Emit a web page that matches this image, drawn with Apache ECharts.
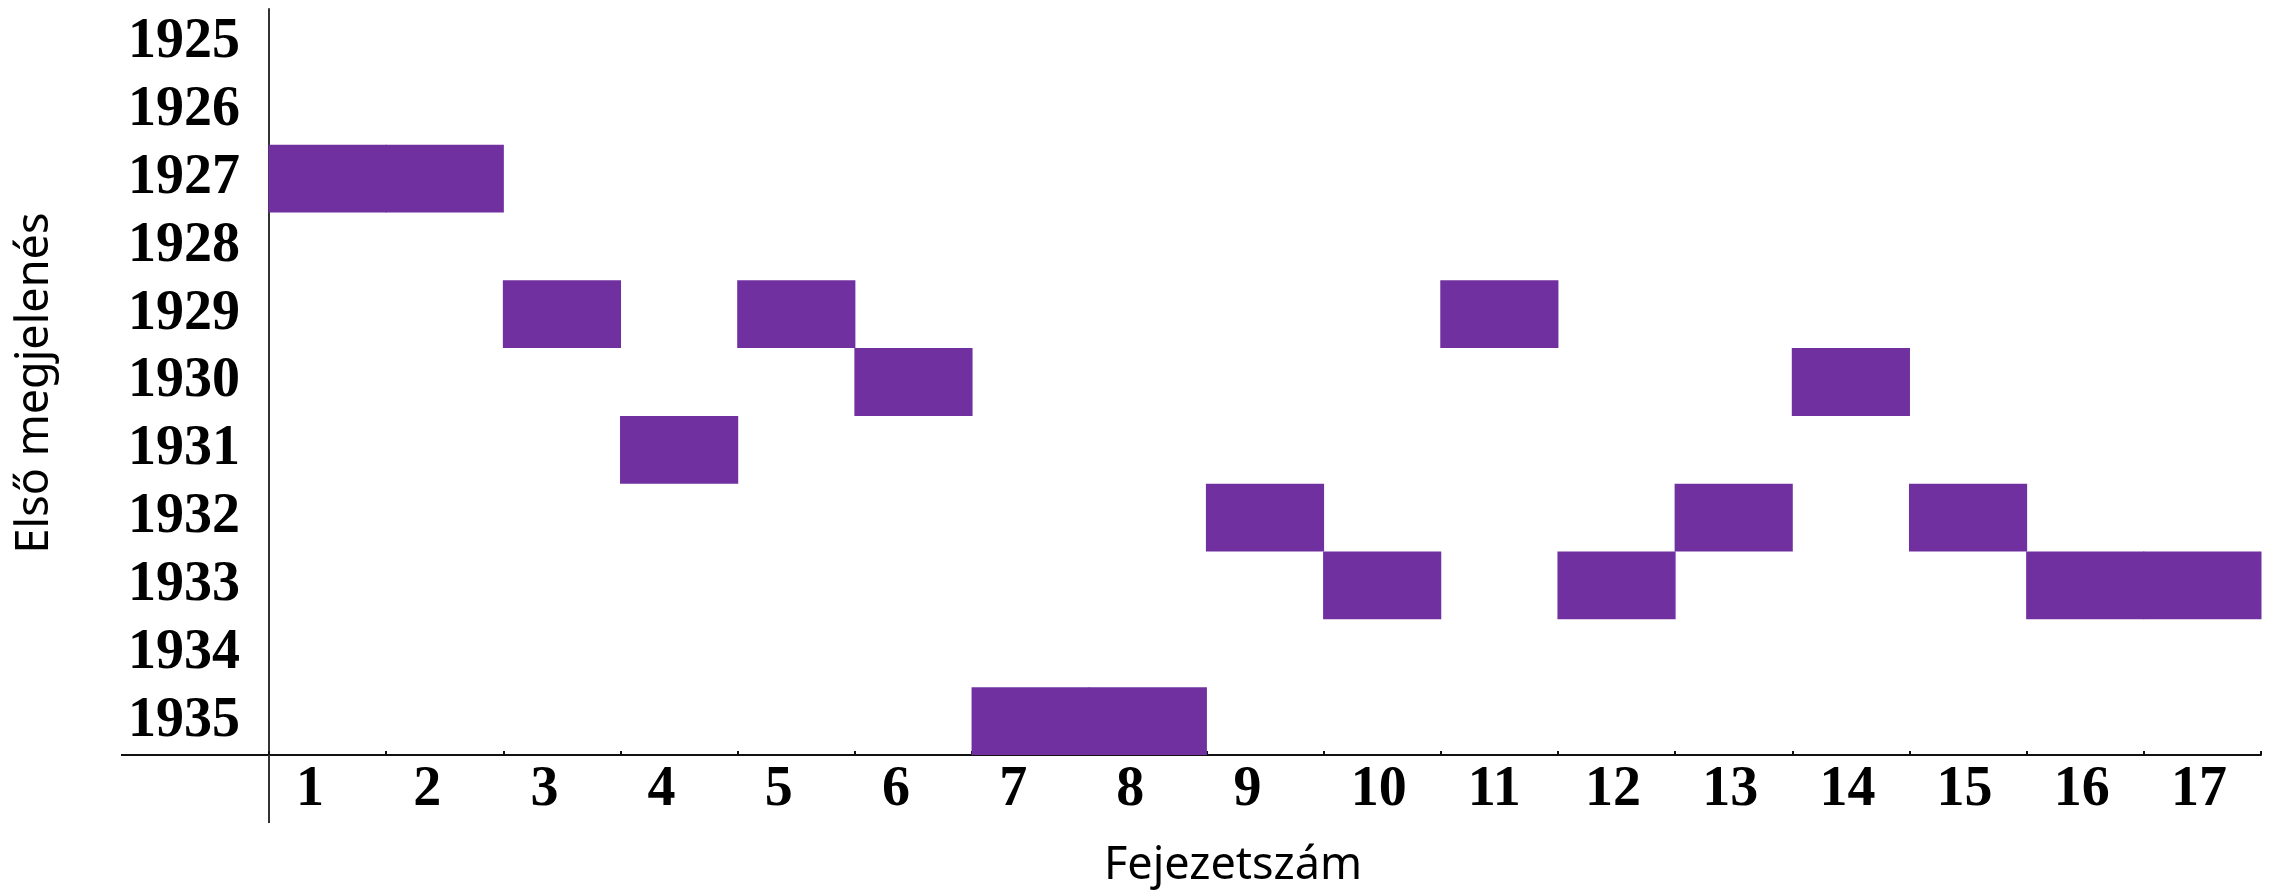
<!DOCTYPE html>
<html>
<head>
<meta charset="utf-8">
<script src="https://cdn.jsdelivr.net/npm/echarts@6/dist/echarts.min.js"></script>
<style>
html,body{margin:0;padding:0;background:#fff;}
#chart{width:2280px;height:891px;}
</style>
</head>
<body>
<div id="chart"></div>
<script>
// ---- data ----
var chapters = ['1','2','3','4','5','6','7','8','9','10','11','12','13','14','15','16','17'];
var years = ['1925','1926','1927','1928','1929','1930','1931','1932','1933','1934','1935'];
var firstYear = [1927,1927,1929,1931,1929,1930,1935,1935,1932,1933,1929,1933,1932,1930,1932,1933,1933];
var xTitle = 'Fejezetszám';
var yTitle = 'Első megjelenés';

// ---- layout ----
var G = {left: 269, right: 19, top: 9, bottom: 136};
var W = 2280, H = 891;
var axisX = G.left, axisY = H - G.bottom;

var cells = firstYear.map(function (y, i) { return [i, years.indexOf(String(y))]; });

var chart = echarts.init(document.getElementById('chart'), null, {renderer: 'canvas'});
chart.setOption({
  animation: false,
  backgroundColor: '#ffffff',
  grid: {left: G.left, right: G.right, top: G.top, bottom: G.bottom, containLabel: false},
  xAxis: {
    type: 'category',
    data: chapters,
    boundaryGap: true,
    axisLine: {show: true, lineStyle: {color: '#111111', width: 2}},
    axisTick: {show: true, inside: true, length: 4, alignWithLabel: false, lineStyle: {color: '#111111', width: 2}},
    axisLabel: {
      interval: 0,
      margin: 8,
      formatter: function (v) { return '{a|' + v + '}'; },
      rich: {
        a: {width: 63, align: 'left', fontFamily: 'Liberation Serif', fontWeight: 'bold', fontSize: 56, color: '#000'}
      }
    },
    splitLine: {show: false}
  },
  yAxis: {
    type: 'category',
    data: years,
    inverse: true,
    boundaryGap: true,
    axisLine: {show: true, lineStyle: {color: '#333333', width: 2}},
    axisTick: {show: false},
    axisLabel: {interval: 0, margin: 29, fontFamily: 'Liberation Serif', fontWeight: 'bold', fontSize: 56, color: '#000'},
    splitLine: {show: false}
  },
  series: [{
    type: 'custom',
    data: cells,
    encode: {x: 0, y: 1},
    z: 1,
    renderItem: function (params, api) {
      var c = api.coord([api.value(0), api.value(1)]);
      var s = api.size([1, 1]);
      return {
        type: 'rect',
        shape: {x: c[0] - s[0] / 2 - 0.5, y: c[1] - s[1] / 2, width: s[0] + 1, height: s[1]},
        style: {fill: '#7030A0'}
      };
    }
  }],
  graphic: [
    {type: 'line', shape: {x1: 121, y1: axisY, x2: axisX, y2: axisY}, style: {stroke: '#111111', lineWidth: 2}, z: 10},
    {type: 'line', shape: {x1: axisX, y1: axisY, x2: axisX, y2: 823}, style: {stroke: '#333333', lineWidth: 2}, z: 10},
    {type: 'text', x: 1233, y: 866, style: {text: xTitle, font: '45px "Noto Sans"', fill: '#000', align: 'center', verticalAlign: 'middle', textAlign: 'center', textVerticalAlign: 'middle'}},
    {type: 'text', x: 35, y: 383, rotation: Math.PI / 2, style: {text: yTitle, font: '45px "Noto Sans"', fill: '#000', align: 'center', verticalAlign: 'middle', textAlign: 'center', textVerticalAlign: 'middle'}}
  ]
});
</script>
</body>
</html>
